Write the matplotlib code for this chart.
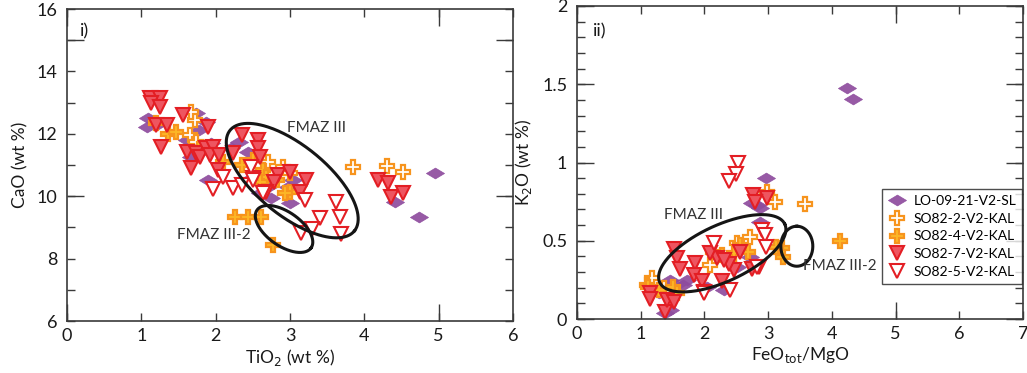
import matplotlib
matplotlib.use('Agg')
import matplotlib.pyplot as plt
import numpy as np
from matplotlib.path import Path

plt.rcParams['font.family'] = ['Lato', 'DejaVu Sans']

# ---- panel i) TiO2 vs CaO ----
lo_tio2 = [1.09, 1.07, 1.22, 1.74, 1.87, 1.78, 1.61, 1.94, 2.32, 2.43, 2.21, 1.67, 1.90, 2.75, 3.0, 3.04,
           2.97, 2.70, 4.95, 4.41, 4.74, 2.5, 2.59]
lo_cao = [12.5, 12.23, 12.3, 12.66, 12.39, 12.12, 11.8, 11.69, 11.75, 11.43, 11.53, 11.27, 10.52, 9.93, 9.77,
          10.52, 10.3, 10.3, 10.73, 9.82, 9.34, 10.6, 10.1]
s2_tio2 = [1.72, 1.67, 1.65, 1.74, 2.70, 2.91, 3.0, 3.85, 4.30, 4.52]
s2_cao = [12.44, 12.7, 11.96, 11.75, 11.1, 10.95, 10.73, 10.95, 10.98, 10.76]
s4_tio2 = [1.20, 1.36, 1.47, 2.10, 2.35, 2.5, 2.64, 2.68, 2.59, 2.82, 3.0, 2.26, 2.44, 2.61, 2.77, 2.93, 1.78]
s4_cao = [12.34, 12.0, 12.07, 11.1, 11.0, 11.16, 10.84, 10.63, 10.47, 10.52, 10.15, 9.34, 9.34, 9.34, 8.44,
          10.1, 11.5]
s7_tio2 = [1.11, 1.25, 1.13, 1.25, 1.56, 1.2, 1.34, 1.90, 1.27, 1.61, 1.74, 1.87, 1.96, 1.79, 1.92, 2.05,
           1.67, 2.23, 2.35, 2.57, 2.57, 2.59, 2.03, 2.5, 2.84, 2.79, 3.0, 3.22, 3.13, 2.68, 4.18, 4.32,
           4.36, 4.52]
s7_cao = [13.14, 13.14, 12.98, 12.87, 12.6, 12.28, 12.28, 12.23, 11.59, 11.43, 11.37, 11.53, 11.59, 11.27,
          11.32, 11.32, 10.89, 11.37, 11.96, 11.8, 11.53, 11.27, 10.84, 10.57, 10.68, 10.47, 10.79, 10.52,
          10.15, 10.15, 10.52, 10.41, 9.99, 10.09]
s5_tio2 = [2.10, 1.96, 2.23, 2.35, 2.48, 2.5, 3.2, 3.62, 3.67, 3.40, 3.15, 3.69, 3.29, 2.64]
s5_cao = [10.63, 10.22, 10.25, 10.36, 10.95, 10.52, 9.88, 9.82, 9.34, 9.29, 8.81, 8.78, 8.94, 10.1]

# ---- panel ii) FeOtot/MgO vs K2O ----
lo_fm = [4.23, 4.33, 2.97, 2.82, 2.87, 2.74, 2.87, 1.46, 1.72, 1.67, 1.38, 1.46, 2.30, 2.72, 2.51, 2.04,
         1.28, 1.55]
lo_k2o = [1.478, 1.406, 0.903, 0.728, 0.707, 0.739, 0.622, 0.249, 0.249, 0.217, 0.036, 0.058, 0.185, 0.398,
          0.334, 0.207, 0.164, 0.22]
s2_fm = [2.98, 3.11, 3.58, 2.72, 2.09, 1.18, 1.10, 2.51, 1.36]
s2_k2o = [0.814, 0.75, 0.735, 0.526, 0.345, 0.26, 0.217, 0.483, 0.196]
s4_fm = [4.13, 3.21, 3.24, 3.13, 2.56, 2.69, 2.46, 2.27, 2.14, 2.38, 1.51, 1.12, 1.28, 1.57]
s4_k2o = [0.5, 0.451, 0.398, 0.462, 0.473, 0.43, 0.42, 0.409, 0.43, 0.377, 0.207, 0.207, 0.185, 0.164]
s7_fm = [2.77, 2.98, 2.80, 1.52, 1.57, 1.62, 1.85, 1.83, 1.96, 1.99, 2.27, 2.46, 2.56, 2.19, 2.38, 1.15,
         1.15, 1.38, 1.41, 1.52, 2.74, 2.09, 2.30, 2.85]
s7_k2o = [0.79, 0.77, 0.75, 0.45, 0.39, 0.32, 0.36, 0.28, 0.24, 0.175, 0.24, 0.31, 0.43, 0.39, 0.35, 0.164,
          0.13, 0.047, 0.12, 0.11, 0.32, 0.42, 0.377, 0.33]
s5_fm = [2.53, 2.50, 2.38, 2.90, 2.95, 2.97, 2.15, 2.40, 1.99, 2.82]
s5_k2o = [0.995, 0.926, 0.884, 0.569, 0.537, 0.462, 0.483, 0.185, 0.164, 0.334]

labels = ['LO-09-21-V2-SL', 'SO82-2-V2-KAL', 'SO82-4-V2-KAL', 'SO82-7-V2-KAL', 'SO82-5-V2-KAL']

# 扁菱形
diamond = Path([(-1, 0), (0, 0.6), (1, 0), (0, -0.6), (-1, 0)])
styles = [
    dict(marker=diamond, ms=13, mfc='#8E4C9E', mec='#8E4C9E', mew=0.5, alpha=0.92),
    dict(marker='P', ms=10.5, mfc='white', mec='#F7941D', mew=1.6),
    dict(marker='P', ms=10.5, mfc='#FDB827', mec='#F7941D', mew=1.6),
    dict(marker='v', ms=9.5, mfc='#EE5560', mec='#E31E24', mew=1.5),
    dict(marker='v', ms=9.5, mfc='white', mec='#E31E24', mew=1.5),
]

W, H = 1027, 373
fig = plt.figure(figsize=(W / 100, H / 100), dpi=100)
ax1 = fig.add_axes([67 / W, 1 - 321 / H, 446 / W, 312 / H])
ax2 = fig.add_axes([577 / W, 1 - 319 / H, 446 / W, 313 / H])

series1 = [(lo_tio2, lo_cao), (s2_tio2, s2_cao), (s4_tio2, s4_cao), (s7_tio2, s7_cao), (s5_tio2, s5_cao)]
series2 = [(lo_fm, lo_k2o), (s2_fm, s2_k2o), (s4_fm, s4_k2o), (s7_fm, s7_k2o), (s5_fm, s5_k2o)]

handles = []
for (x, y), st, lab in zip(series1, styles, labels):
    ax1.plot(x, y, ls='none', **st)
for (x, y), st, lab in zip(series2, styles, labels):
    h, = ax2.plot(x, y, ls='none', label=lab, **st)
    handles.append(h)


def style_axis(ax):
    for sp in ax.spines.values():
        sp.set_color('#3a3a3a')
        sp.set_linewidth(1.2)
    ax.tick_params(which='both', direction='in', top=True, right=True, color='#3a3a3a',
                   width=1.0, labelsize=13, labelcolor='#1a1a1a')
    ax.tick_params(axis='y', which='both', pad=7)
    ax.tick_params(axis='x', which='both', pad=5)
    ax.xaxis.remove_overlapping_locs = False
    ax.yaxis.remove_overlapping_locs = False


def draw_ellipse(ax, cx, cy, a_px, b_px, ang):
    # 椭圆按像素大小画，再换算回数据坐标
    bb = ax.get_position()
    x0, x1 = ax.get_xlim()
    y0, y1 = ax.get_ylim()
    sx = bb.width * W / (x1 - x0)
    sy = bb.height * H / (y1 - y0)
    t = np.linspace(0, 2 * np.pi, 300)
    th = np.radians(ang)
    dx = a_px * np.cos(t) * np.cos(th) - b_px * np.sin(t) * np.sin(th)
    dy = a_px * np.cos(t) * np.sin(th) + b_px * np.sin(t) * np.cos(th)
    ax.plot(cx + dx / sx, cy + dy / sy, color='#151515', lw=2.2)


# panel i
ax1.set_xlim(0, 6)
ax1.set_ylim(6, 16)
style_axis(ax1)
ax1.set_xticks(range(0, 7), labels=[str(v) for v in range(0, 7)], minor=True)
ax1.set_xticks([0, 5], labels=['', ''])
ax1.set_yticks(range(6, 17), labels=[str(v) if v % 2 == 0 else '' for v in range(6, 17)], minor=True)
ax1.set_yticks([10, 15], labels=['', ''])
ax1.tick_params(which='minor', length=6)
ax1.tick_params(which='major', length=12)
ax1.set_xlabel('TiO$_2$ (wt %)', fontsize=12.5, labelpad=2, color='#1a1a1a')
ax1.set_ylabel('CaO (wt %)', fontsize=12.5, labelpad=6, color='#1a1a1a')
ax1.text(0.03, 0.955, 'i)', transform=ax1.transAxes, fontsize=13, va='top', ha='left', color='#1a1a1a')
draw_ellipse(ax1, 3.03, 10.5, 80, 35, -39)
draw_ellipse(ax1, 2.92, 8.95, 33, 17, -35)
ax1.text(3.36, 12.19, 'FMAZ III', fontsize=11, ha='center', va='center', color='#333333')
ax1.text(1.97, 8.76, 'FMAZ III-2', fontsize=11, ha='center', va='center', color='#333333')

# panel ii
ax2.set_xlim(0, 7)
ax2.set_ylim(0, 2)
style_axis(ax2)
ax2.set_xticks(range(0, 8), labels=[str(v) for v in range(0, 8)], minor=True)
ax2.set_xticks([0, 5], labels=['', ''])
ax2.set_yticks(np.arange(0, 2.01, 0.1), minor=True)
ax2.set_yticks([0, 0.5, 1, 1.5, 2], labels=['0', '0.5', '1', '1.5', '2'])
ax2.tick_params(which='minor', length=6)
ax2.tick_params(which='major', length=12)
ax2.set_xlabel('FeO$_{\\mathrm{tot}}$/MgO', fontsize=12.5, labelpad=2, color='#1a1a1a')
ax2.set_ylabel('K$_2$O (wt %)', fontsize=12.5, labelpad=6, color='#1a1a1a')
ax2.text(0.035, 0.945, 'ii)', transform=ax2.transAxes, fontsize=13, va='top', ha='left', color='#1a1a1a')
draw_ellipse(ax2, 2.28, 0.42, 69, 28, 25)
draw_ellipse(ax2, 3.45, 0.465, 20, 16, 90)
ax2.text(1.83, 0.665, 'FMAZ III', fontsize=11, ha='center', va='center', color='#333333')
ax2.text(4.13, 0.339, 'FMAZ III-2', fontsize=11, ha='center', va='center', color='#333333')

leg = ax2.legend(handles=handles, loc='upper left', bbox_to_anchor=(0.684, 0.415), fontsize=10,
                 frameon=True, fancybox=False, edgecolor='#222222', borderpad=0.45, labelspacing=0.4,
                 handlelength=1.2, handletextpad=0.6, borderaxespad=0)
leg.get_frame().set_linewidth(1.0)

fig.savefig('out.png', dpi=100)
